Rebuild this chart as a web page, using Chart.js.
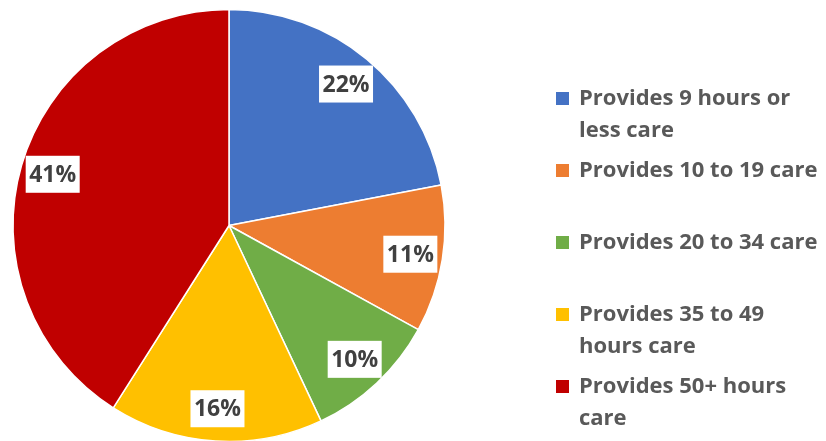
<!DOCTYPE html>
<html>
<head>
<meta charset="utf-8">
<script src="https://cdn.jsdelivr.net/npm/chart.js@4"></script>
<style>
  html, body { margin: 0; padding: 0; background: #fff; }
  #wrap { width: 826px; height: 441px; }
</style>
</head>
<body>
<div id="wrap"><canvas id="careChart" width="826" height="441"></canvas></div>
<script>
// categories (multi-line labels as in the original legend)
const labels = [
  ['Provides 9 hours or', 'less care'],
  ['Provides 10 to 19 care'],
  ['Provides 20 to 34 care'],
  ['Provides 35 to 49', 'hours care'],
  ['Provides 50+ hours', 'care']
];
// share of carers, percent
const shares = [22, 11, 10, 16, 41];
const colors = ['#4472C4', '#ED7D31', '#70AD47', '#FFC000', '#C00000'];

// percentage boxes on the slices
const sliceLabels = {
  id: 'sliceLabels',
  afterDatasetsDraw(chart) {
    const ctx = chart.ctx;
    const meta = chart.getDatasetMeta(0);
    ctx.save();
    ctx.font = 'bold 23px "Open Sans"';
    ctx.textAlign = 'center';
    ctx.textBaseline = 'middle';
    meta.data.forEach((arc, i) => {
      const p = arc.getProps(['x', 'y', 'startAngle', 'endAngle', 'outerRadius'], true);
      const mid = (p.startAngle + p.endAngle) / 2;
      const r = p.outerRadius * 0.85;
      const cx = p.x + Math.cos(mid) * r;
      const cy = p.y + Math.sin(mid) * r;
      ctx.fillStyle = '#fff';
      ctx.fillRect(cx - 27, cy - 18.5, 54, 37);
      ctx.fillStyle = '#404040';
      ctx.fillText(shares[i] + '%', cx, cy + 1);
    });
    ctx.restore();
  }
};

// legend on the right, drawn by hand to keep the wrapped lines
const sideLegend = {
  id: 'sideLegend',
  afterDraw(chart) {
    const ctx = chart.ctx;
    ctx.save();
    ctx.font = 'bold 22px "Open Sans"';
    ctx.textBaseline = 'middle';
    chart.data.labels.forEach((lines, i) => {
      const y = 99 + i * 72;
      ctx.fillStyle = colors[i];
      ctx.fillRect(556, y - 7, 13, 13);
      ctx.fillStyle = '#595959';
      lines.forEach((t, k) => ctx.fillText(t, 579, y + k * 32));
    });
    ctx.restore();
  }
};

new Chart(document.getElementById('careChart'), {
  type: 'pie',
  data: {
    labels: labels,
    datasets: [{
      data: shares,
      backgroundColor: colors,
      borderColor: '#fff',
      borderWidth: 1.5,
      hoverOffset: 0,
      radius: 216
    }]
  },
  options: {
    responsive: false,
    animation: false,
    layout: { padding: { left: 0, right: 368, top: 10, bottom: 0 } },
    plugins: {
      legend: { display: false },
      tooltip: { enabled: false }
    }
  },
  plugins: [sliceLabels, sideLegend]
});
</script>
</body>
</html>
